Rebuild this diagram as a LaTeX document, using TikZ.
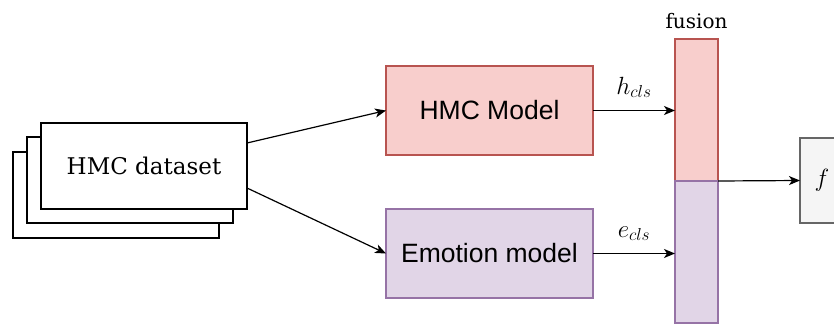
\documentclass[tikz,border=0pt]{standalone}
\usepackage{fontspec}
\setsansfont{Liberation Sans}
\newfontfamily\labelserif{DejaVu Serif}
\usetikzlibrary{arrows.meta}
\definecolor{redfill}{HTML}{F8CECC}
\definecolor{redline}{HTML}{B85450}
\definecolor{purfill}{HTML}{E1D5E7}
\definecolor{purline}{HTML}{9673A6}
\definecolor{grayfill}{HTML}{F5F5F5}
\definecolor{grayline}{HTML}{666666}
\begin{document}
\begin{tikzpicture}[x=1pt,y=-1pt,
  box/.style={draw, line width=1.2pt, anchor=north west, inner sep=0pt, outer sep=0pt},
  stackbox/.style={box, fill=white, minimum width=206pt, minimum height=86pt,
    font=\labelserif\fontsize{23}{28}\selectfont},
  model/.style={box, minimum width=207pt, minimum height=89pt,
    font=\sffamily\fontsize{26.5}{30}\selectfont},
  bar/.style={box, minimum width=43pt, minimum height=142pt},
  conn/.style={line width=1.2pt, -{Stealth[length=11pt,width=9pt,inset=3pt]}},
  mathlbl/.style={font=\fontsize{24}{28}\selectfont, inner sep=0pt}
]
\useasboundingbox (0,0) rectangle (834,326);
\clip (0,0) rectangle (834,326);

% dataset stack
\node[stackbox] (back) at (13,152) {};
\node[stackbox] (mid) at (27,137) {};
\node[stackbox] (front) at (41,123) {HMC dataset};

% models
\node[model, fill=redfill, draw=redline] (hmc) at (386,66) {HMC Model};
\node[model, fill=purfill, draw=purline] (emo) at (386,209) {Emotion model};

% fusion bars
\node[bar, fill=redfill, draw=redline] (ftop) at (675,39) {};
\node[bar, fill=purfill, draw=purline] (fbot) at (675,181) {};
\node[font=\labelserif\fontsize{20}{24}\selectfont, anchor=south] (flabel) at ([yshift=7pt]ftop.north) {fusion};

% output
\node[box, fill=grayfill, draw=grayline, minimum width=44pt, minimum height=85pt,
  font=\fontsize{25}{28}\selectfont] (out) at (800,138) {$f$};

% connectors
\draw[conn] ([yshift=23pt]front.east) -- (hmc.west);
\draw[conn] ([yshift=-22pt]front.east) -- (emo.west);
\draw[conn] (hmc.east) -- node[mathlbl, above=12pt] (hl) {$h_{cls}$} (hmc.east -| ftop.west);
\draw[conn] (emo.east) -- node[mathlbl, above=12pt] (el) {$e_{cls}$} (emo.east -| fbot.west);
\draw[conn] (ftop.south east) -- (out.west);
\end{tikzpicture}
\end{document}
